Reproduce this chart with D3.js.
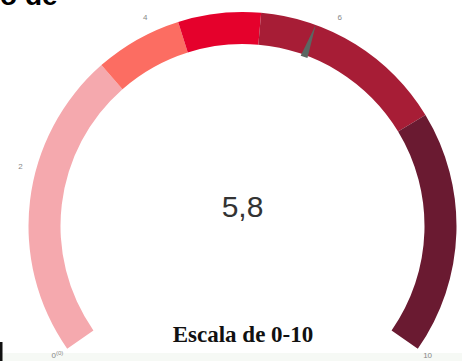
<!DOCTYPE html>
<html>
<head>
<meta charset="utf-8">
<script src="https://cdn.jsdelivr.net/npm/d3@7"></script>
<style>
  body { margin: 0; background: #fff; }
  svg { display: block; }
</style>
</head>
<body>
<svg width="462" height="361"></svg>
<script>
// gauge data
const bandStops = [0, 3.35, 4.3, 5.2, 7.35, 10]
const bandColors = ['#f5a9ae', '#fc6d62', '#e5012c', '#a71d36', '#6a1a31']
const tickValues = [0, 2, 4, 6, 10]
const gaugeValue = 5.8
const valueLabel = '5,8'
const caption = 'Escala de 0-10'
const cutTitle = 'o de'

const svg = d3.select('svg')
const width = +svg.attr('width')
const height = +svg.attr('height')

const cx = 242.5
const cy = 226
const rOuter = 214
const rInner = 182

const angle = d3.scaleLinear()
                .domain([0, 10])
                .range([-125 * Math.PI / 180, 125 * Math.PI / 180])

// faint strip at the bottom + edge line of the screenshot
svg.append('rect')
   .attr('x', 0).attr('y', 353).attr('width', width).attr('height', height - 353)
   .attr('fill', '#f6f9f5')
svg.append('rect')
   .attr('x', 0).attr('y', 342).attr('width', 2.5).attr('height', height - 342)
   .attr('fill', '#111')

const g = svg.append('g')
             .attr('transform', 'translate(' + cx + ',' + cy + ')')

const arc = d3.arc()
              .innerRadius(rInner)
              .outerRadius(rOuter)

const bands = bandColors.map((c, i) => ({ from: bandStops[i], to: bandStops[i + 1], color: c }))

g.selectAll('path.band')
 .data(bands)
 .enter().append('path')
 .attr('class', 'band')
 .attr('d', d => arc({ startAngle: angle(d.from), endAngle: angle(d.to) }))
 .attr('fill', d => d.color)

// tick labels
const labelR = d => (d === 0 || d === 10) ? 226 : 230
const tick = g.selectAll('text.tick')
              .data(tickValues)
              .enter().append('text')
              .attr('class', 'tick')
              .attr('x', d => labelR(d) * Math.sin(angle(d)))
              .attr('y', d => -labelR(d) * Math.cos(angle(d)))
              .attr('text-anchor', 'middle')
              .attr('dominant-baseline', 'middle')
              .attr('font-family', 'Liberation Sans, Arial, sans-serif')
              .attr('font-size', 8)
              .attr('fill', '#888')
              .text(d => d)
tick.filter(d => d === 0)
    .append('tspan')
    .attr('dy', -3)
    .attr('font-size', 6)
    .text('(0)')

// needle
const a = angle(gaugeValue)
const pt = (r, t) => [r * Math.sin(t), -r * Math.cos(t)]
const baseR = 180
const tip = pt(rOuter, a)
const half = 3.6 / baseR
g.append('path')
 .attr('d', d3.line()([pt(baseR, a - half), tip, pt(baseR, a + half)]) + 'Z')
 .attr('fill', '#5b6662')

// value in the middle
svg.append('text')
   .attr('x', cx)
   .attr('y', 217)
   .attr('text-anchor', 'middle')
   .attr('font-family', 'Liberation Sans, Arial, sans-serif')
   .attr('font-size', 30)
   .attr('fill', '#333')
   .text(valueLabel)

svg.append('text')
   .attr('x', 243)
   .attr('y', 342)
   .attr('text-anchor', 'middle')
   .attr('font-family', 'Liberation Serif, Times New Roman, serif')
   .attr('font-weight', 'bold')
   .attr('font-size', 23)
   .attr('fill', '#111')
   .text(caption)

// cut off title at top left
svg.append('text')
   .attr('x', 0)
   .attr('y', 5)
   .attr('font-family', 'Liberation Sans, Arial, sans-serif')
   .attr('font-weight', 'bold')
   .attr('font-size', 28)
   .attr('fill', '#000')
   .text(cutTitle)
</script>
</body>
</html>
